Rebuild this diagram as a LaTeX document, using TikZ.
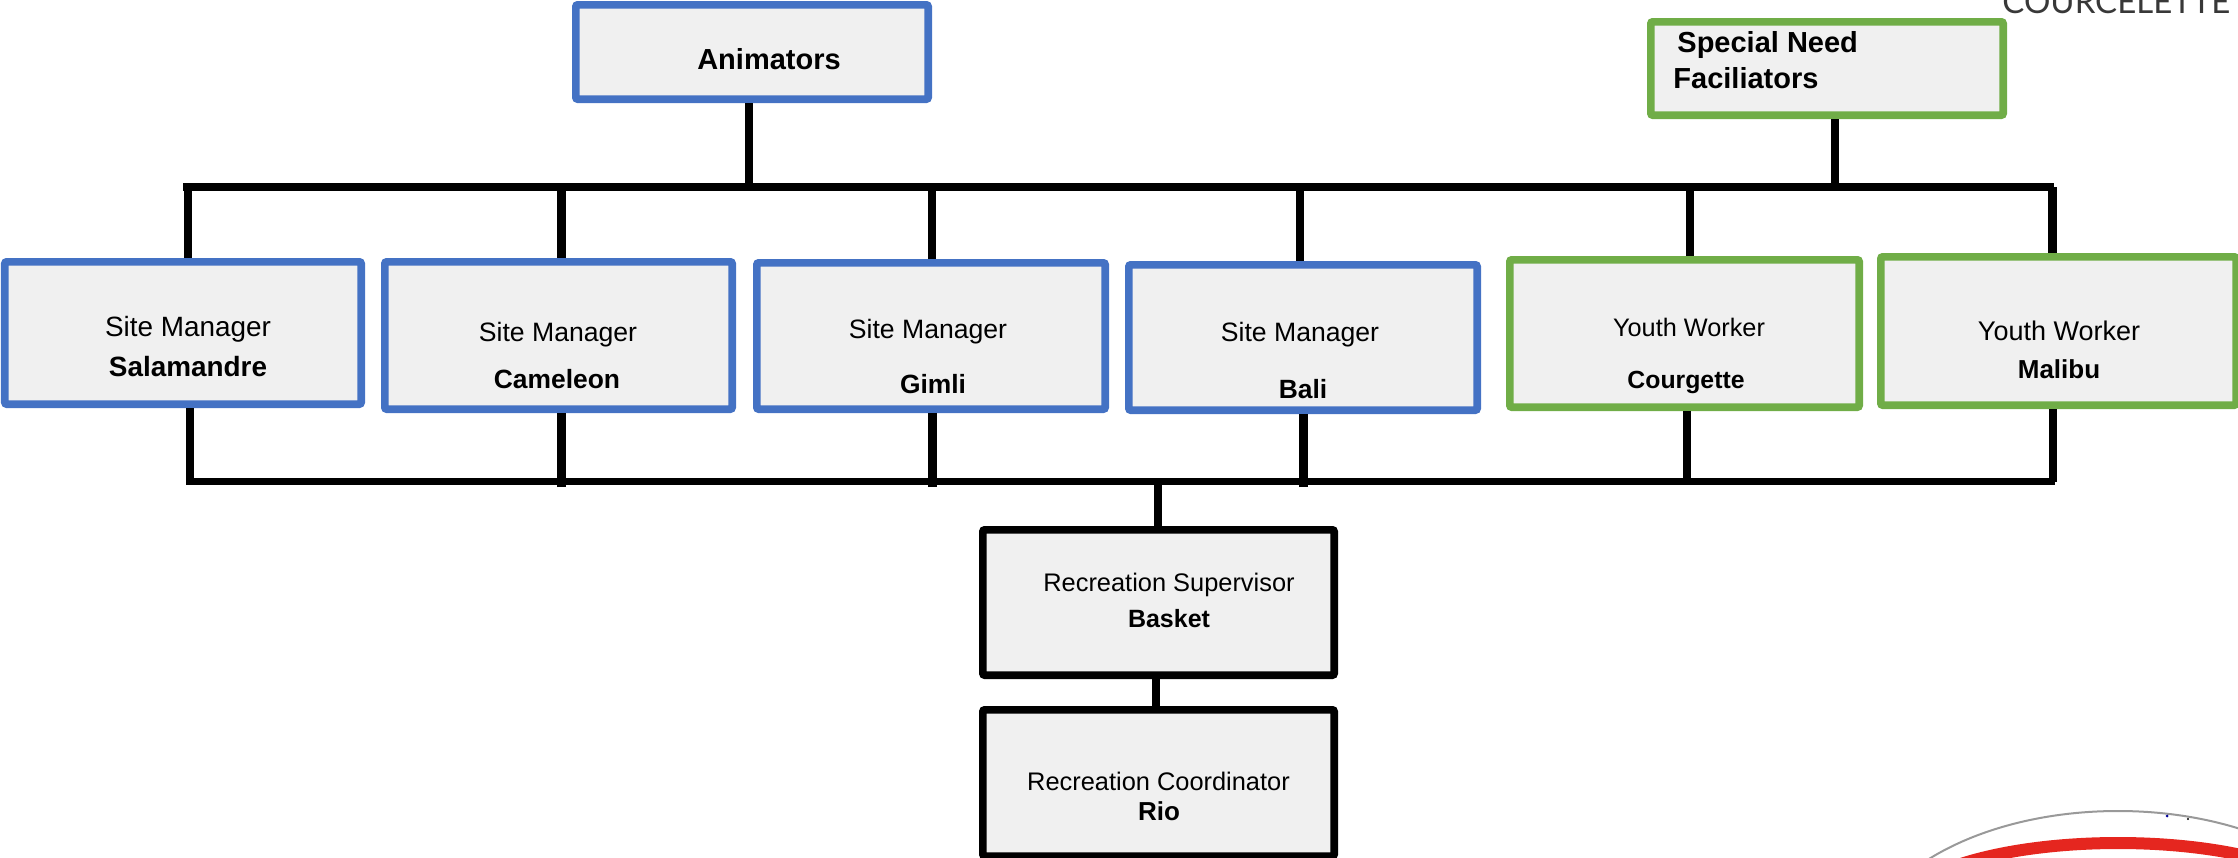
\documentclass[tikz,border=0pt]{standalone}
\usepackage{fontspec}
\setmainfont{Liberation Sans}
\newfontfamily\logofont{Lato}
\definecolor{bluebox}{HTML}{4472C4}
\definecolor{greenbox}{HTML}{70AD47}
\definecolor{boxfill}{HTML}{F0F0F0}
\definecolor{logored}{HTML}{E5261F}
\newcommand{\sz}[1]{\fontsize{#1}{#1}\selectfont}
\tikzset{
  box/.style={rectangle,draw,fill=boxfill,line width=3.8pt,rounded corners=1pt,inner sep=0pt,anchor=north west},
  bluecard/.style={box,draw=bluebox},
  greencard/.style={box,draw=greenbox},
  blackcard/.style={box,draw=black},
  lbl/.style={inner sep=0pt,text height=.72em,text depth=0pt,text=black,yshift=-0.7pt},
  wire/.style={draw=black,line width=3.9pt},
  heavy/.style={wire,line width=4.5pt},
}
\newcommand{\card}[6]{% style,name,x0,y0,x1,y1 (outer edges, px)
  \pgfmathsetmacro{\w}{(#5-#3-7.6)*0.5}\pgfmathsetmacro{\h}{(#6-#4-7.6)*0.5}
  \node[#1,minimum width=\w pt,minimum height=\h pt] (#2) at (#3,#4) {};
}
\begin{document}
\begin{tikzpicture}[x=0.5pt,y=-0.5pt]
\useasboundingbox (0,0) rectangle (2238,857);
\clip (0,0) rectangle (2238,857);
% logo fragments
\node[inner sep=0pt,anchor=base west,text=black!78] (brand) at (2002,13.5) {\logofont\sz{16.5}COURCELETTE};
\draw[gray!80,line width=1pt] (2118,964) ellipse [x radius=260,y radius=153];
\draw[logored,line width=6pt] (2118,913) ellipse [x radius=220,y radius=70];
\fill[blue!60!black] (2167,816) circle (1.5);
\fill[black] (2188,819) circle (1.2);
% boxes
\card{bluecard}{anim}{572}{1}{932}{103}
\card{greencard}{spec}{1647}{18}{2007}{119}
\card{bluecard}{sala}{1}{258}{365}{408}
\card{bluecard}{came}{381}{258}{736}{413}
\card{bluecard}{giml}{753}{259}{1109}{413}
\card{bluecard}{bali}{1125}{261}{1481}{414}
\card{greencard}{cour}{1506}{256}{1863}{411}
\card{greencard}{mali}{1877}{253}{2240}{409}
\card{blackcard}{supe}{979}{526}{1338}{679}
\card{blackcard}{coor}{979}{706}{1338}{860}
% bus junctions
\coordinate (tl) at (187,187); \coordinate (tr) at (2050,187);
\coordinate (bl) at (190,481.5); \coordinate (br) at (2051,481.5);
\coordinate (ta) at (749,187); \coordinate (ts) at (1835,187);
\coordinate (t1) at (188,187); \coordinate (t2) at (561,187); \coordinate (t3) at (932,187);
\coordinate (t4) at (1300,187); \coordinate (t5) at (1690,187); \coordinate (t6) at (2052,187);
\coordinate (b1) at (190,482); \coordinate (b2) at (561,487); \coordinate (b3) at (932,487);
\coordinate (b4) at (1303,487); \coordinate (b5) at (1687,482); \coordinate (b6) at (2053,482);
\coordinate (bc) at (1158,482);
\draw[wire] ([xshift=-1.9pt]tl) -- ([xshift=1.9pt]tr);
\draw[wire] ([xshift=-1.9pt]bl) -- ([xshift=1.9pt]br);
\draw[wire] (anim.south -| ta) -- (ta);
\draw[wire] (spec.south -| ts) -- (ts);
\draw[wire] (t1) -- (t1 |- sala.north);
\draw[heavy] (t2) -- (t2 |- came.north);
\draw[wire] (t3) -- (t3 |- giml.north);
\draw[wire] (t4) -- (t4 |- bali.north);
\draw[wire] (t5) -- (t5 |- cour.north);
\draw[heavy] (t6) -- (t6 |- mali.north);
\draw[wire] (b1) -- (b1 |- sala.south);
\draw[heavy] (b2) -- (b2 |- came.south);
\draw[heavy] (b3) -- (b3 |- giml.south);
\draw[heavy] (b4) -- (b4 |- bali.south);
\draw[wire] (b5) -- (b5 |- cour.south);
\draw[wire] (b6) -- (b6 |- mali.south);
\draw[wire] (bc) -- (bc |- supe.north);
\draw[wire] (supe.south -| 1156,0) -- (coor.north -| 1156,0);
% labels
\node[lbl,font=\bfseries\sz{14.5}] (l1) at (769,61) {Animators};
\node[lbl,anchor=west,font=\bfseries\sz{14.5}] (l2) at (1677,44) {Special Need};
\node[lbl,anchor=west,font=\bfseries\sz{14.5}] (l3) at (1673,80) {Faciliators};
\node[lbl,font=\sz{13.95}] (l4) at (188,328) {Site Manager};
\node[lbl,font=\bfseries\sz{13.95}] (l5) at (188,368) {Salamandre};
\node[lbl,font=\sz{13.3}] (l6) at (558,333) {Site Manager};
\node[lbl,font=\bfseries\sz{13.2}] (l7) at (557,380) {Cameleon};
\node[lbl,font=\sz{13.3}] (l8) at (928,330) {Site Manager};
\node[lbl,font=\bfseries\sz{13.2}] (l9) at (933,385) {Gimli};
\node[lbl,font=\sz{13.3}] (l10) at (1300,333) {Site Manager};
\node[lbl,font=\bfseries\sz{13.2}] (l11) at (1303,390) {Bali};
\node[lbl,font=\sz{12.65}] (l12) at (1689,328) {Youth Worker};
\node[lbl,font=\bfseries\sz{12.4}] (l13) at (1686,380) {Courgette};
\node[lbl,font=\sz{13.5}] (l14) at (2059,332) {Youth Worker};
\node[lbl,font=\bfseries\sz{13}] (l15) at (2059,370) {Malibu};
\node[lbl,font=\sz{12.7}] (l16) at (1169,583) {Recreation Supervisor};
\node[lbl,font=\bfseries\sz{12.5}] (l17) at (1169,619) {Basket};
\node[lbl,font=\sz{12.7}] (l18) at (1158.5,782) {Recreation Coordinator};
\node[lbl,font=\bfseries\sz{13}] (l19) at (1159,812) {Rio};
\end{tikzpicture}
\end{document}
